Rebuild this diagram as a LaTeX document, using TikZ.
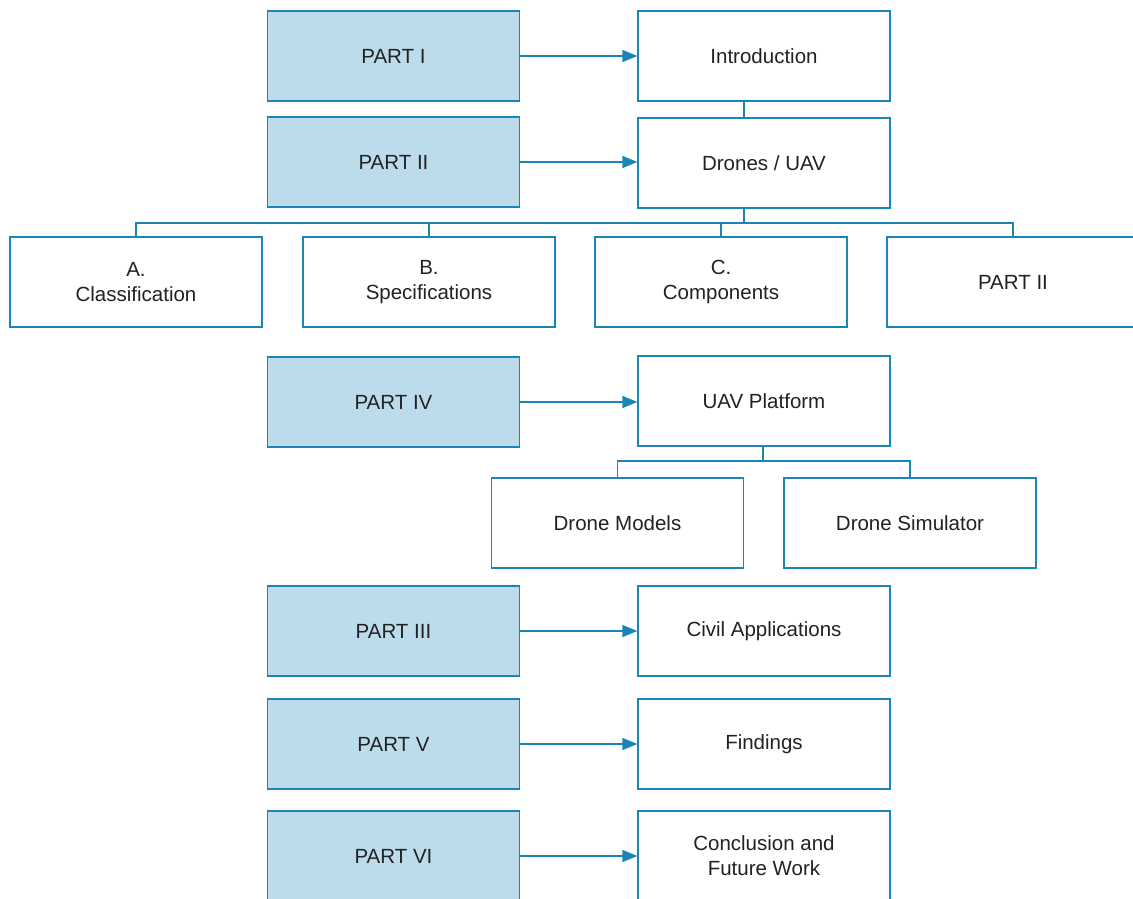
\documentclass[tikz,border=0pt]{standalone}
\usepackage{fontspec}
\setmainfont{Liberation Sans}
\usetikzlibrary{arrows.meta}
\definecolor{lineblue}{HTML}{1A86B8}
\definecolor{fillblue}{HTML}{BCDCEC}
\definecolor{txt}{HTML}{222222}
\begin{document}
\begin{tikzpicture}[x=1pt,y=-1pt,
  box/.style={draw=lineblue, line width=1.3pt, minimum width=252pt, minimum height=90pt,
    inner sep=0pt, align=center, text=txt, font=\fontsize{20.5}{25}\selectfont},
  partbox/.style={box, fill=fillblue},
  plainbox/.style={box, fill=white},
  conn/.style={draw=lineblue, line width=1.3pt},
  arr/.style={conn, -{Triangle[length=15pt,width=12pt]}}]
\clip (0,0) rectangle (1133,898);
\fill[white] (0,0) rectangle (1133,898);
% left column
\node[partbox] (p1) at (393.5,56) {PART I};
\node[partbox] (p2) at (393.5,162) {PART II};
\node[partbox] (p4) at (393.5,402) {PART IV};
\node[partbox] (p3) at (393.5,631) {PART III};
\node[partbox] (p5) at (393.5,744) {PART V};
\node[partbox] (p6) at (393.5,856) {PART VI};
% right column
\node[plainbox] (intro) at (764,56) {Introduction};
\node[plainbox] (drones) at (764,163) {Drones / UAV};
\node[plainbox] (uav) at (764,401) {UAV Platform};
\node[plainbox] (civil) at (764,631) {Civil Applications};
\node[plainbox] (find) at (764,744) {Findings};
\node[plainbox] (concl) at (764,856) {Conclusion and\\Future Work};
% row of four
\node[plainbox] (ca) at (136,282) {A.\\Classification};
\node[plainbox] (cb) at (429,282) {B.\\Specifications};
\node[plainbox] (cc) at (721,282) {C.\\Components};
\node[plainbox] (cd) at (1013,282) {PART II};
% platform children
\node[plainbox] (dm) at (617.5,523) {Drone Models};
\node[plainbox] (ds) at (910,523) {Drone Simulator};
% arrows
\draw[arr] (p1) -- (intro);
\draw[arr] (p2) -- (drones.west |- p2);
\draw[arr] (p4) -- (uav.west |- p4);
\draw[arr] (p3) -- (civil);
\draw[arr] (p5) -- (find);
\draw[arr] (p6) -- (concl);
% tree connectors
\coordinate (t1) at (744,223);
\draw[conn] (intro.south -| t1) -- (drones.north -| t1);
\draw[conn] (drones.south -| t1) -- (t1);
\draw[conn] (t1) -| (ca.north);
\draw[conn] (t1) -| (cb.north);
\draw[conn] (t1) -| (cc.north);
\draw[conn] (t1) -| (cd.north);
\coordinate (t2) at (763,461);
\draw[conn] (uav.south -| t2) -- (t2);
\draw[conn] (t2) -| (dm.north);
\draw[conn] (t2) -| (ds.north);
\end{tikzpicture}
\end{document}
